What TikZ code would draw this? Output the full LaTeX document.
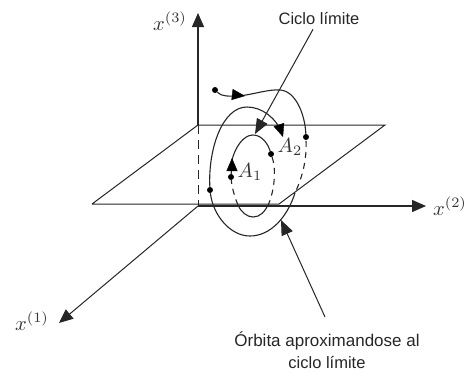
\documentclass[tikz,border=0pt]{standalone}
\usepackage{fontspec}
\setmainfont{Liberation Sans}
\usetikzlibrary{arrows.meta}
\tikzset{
  line/.style={line width=1pt,black!85},
  axis/.style={line width=1.3pt,black!85,-{Triangle[length=14pt,width=12pt]}},
  pointer/.style={line width=1pt,black!85,-{Triangle[length=15pt,width=12pt]}},
  flow/.style={-{Triangle[length=13pt,width=11pt]},black},
  orbit/.style={line width=1.1pt,black!85},
  dashedorbit/.style={line width=1.1pt,black!85,dash pattern=on 6pt off 5pt},
  dotnode/.style={circle,fill=black,inner sep=0pt,minimum size=6pt},
  mathlabel/.style={inner sep=0pt,scale=2.05,text=black!80},
  caption/.style={inner sep=0pt,align=center,text=black!85}
}
\begin{document}
\begin{tikzpicture}[x=1pt,y=-1pt]
\useasboundingbox (0,0) rectangle (467,372);
% plane and axes
\coordinate (O) at (198,206);
\coordinate (B) at (198,125);
\coordinate (P1) at (92,204);
\coordinate (P2) at (385,125);
\coordinate (P3) at (279,204);
\coordinate (X3) at (198,13);
\coordinate (X2) at (426,206);
\coordinate (X1) at (59,323);
\draw[line] (P1) -- (B) -- (P2) -- (P3) -- (P1);
\draw[line,dash pattern=on 9pt off 6pt] (B) -- (O);
\draw[axis] (B) -- (X3);
\draw[axis] (O) -- (X2);
\draw[axis,line width=1pt] (O) -- (X1);
% labels
\node[mathlabel] (l3) at (170,21) {$x^{(3)}$};
\node[mathlabel] (l2) at (450,206) {$x^{(2)}$};
\node[mathlabel] (l1) at (32,321) {$x^{(1)}$};
\node[mathlabel] (a1) at (250,172) {$A_1$};
\node[mathlabel] (a2) at (290,147) {$A_2$};
\node[caption,font=\fontsize{16.5}{22}\selectfont] (c1) at (319,19) {Ciclo límite};
\node[caption,font=\fontsize{17}{22}\selectfont] (c2) at (327,350) {Órbita aproximandose al\\{\fontsize{16.5}{22}\selectfont ciclo límite}};
% dots
\node[dotnode] (d0) at (215,90) {};
\node[dotnode] (d1) at (306,137) {};
\node[dotnode] (d2) at (210,190) {};
\node[dotnode] (d3) at (271,154) {};
\node[dotnode] (d4) at (231,177) {};
% outer orbit
\draw[orbit] (d0) .. controls (222,97) and (229,96) .. (238,96)
  .. controls (252,95) and (268,89) .. (280,90)
  .. controls (296,91) and (305,115) .. (d1);
\draw[dashedorbit] (d1) ++(0,4) .. controls (307,160) and (302,178) .. (295,193);
\draw[orbit] (295,193) .. controls (287,218) and (270,236) .. (250,236)
  .. controls (230,236) and (213,215) .. (d2)
  .. controls (208,150) and (222,107) .. (247,107)
  .. controls (262,107) and (276,118) .. (282,133);
% inner cycle
\draw[orbit] (d4) -- (232,160) .. controls (235,148) and (243,135) .. (253,135)
  .. controls (262,135) and (268,144) .. (d3);
\draw[dashedorbit] (d3) .. controls (276,168) and (275,188) .. (269,203);
\draw[orbit] (269,203) .. controls (265,212) and (260,217) .. (253,217)
  .. controls (247,217) and (241,212) .. (238,205);
\draw[dashedorbit] (238,205) .. controls (235,198) and (232,188) .. (d4);
% flow arrowheads
\draw[flow] (232,94.5) -- (245,96);
\draw[flow] (279,125) -- (283,137);
\draw[flow] (232,170) -- (232,158);
% pointers
\coordinate (t1) at (255,134);
\coordinate (t2) at (281,220);
\draw[pointer] (c1.south) ++(-6,4) -- (t1);
\draw[pointer] (325,317) -- (t2);
\end{tikzpicture}
\end{document}
